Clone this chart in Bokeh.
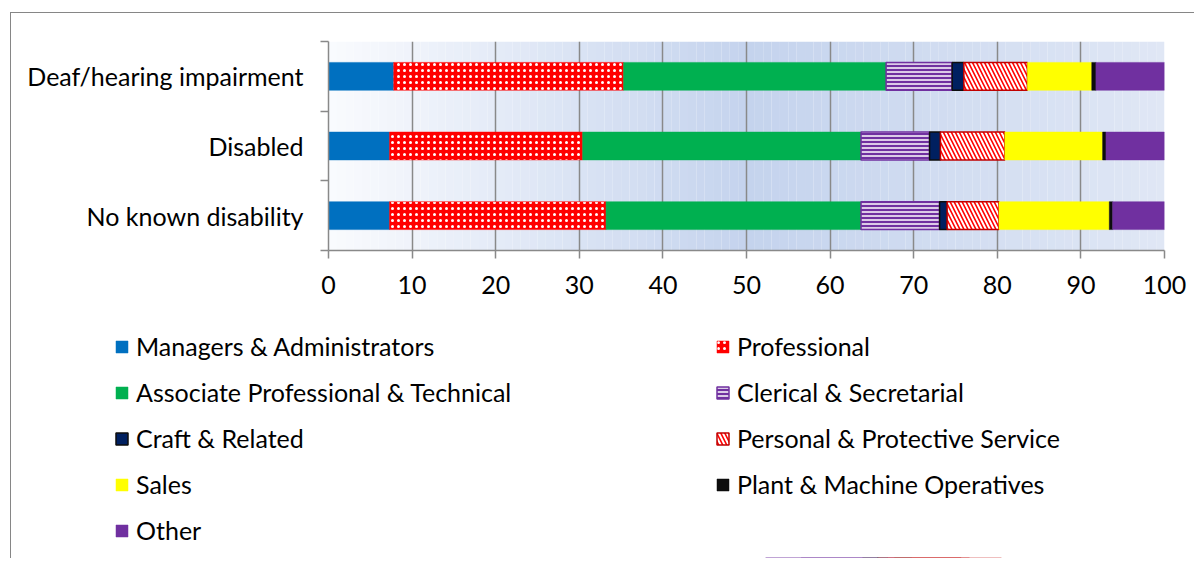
from bokeh.plotting import figure
from bokeh.models import (Range1d, LinearAxis, FixedTicker,
                          Legend, LegendItem, ColumnDataSource)
from bokeh.transform import stack
from bokeh.embed import file_html
from bokeh.resources import INLINE

# ---------------- data ----------------
groups = ["Deaf/hearing impairment", "Disabled", "No known disability"]
series = ["Managers & Administrators", "Professional", "Associate Professional & Technical",
          "Clerical & Secretarial", "Craft & Related", "Personal & Protective Service",
          "Sales", "Plant & Machine Operatives", "Other"]
managers = [7.8, 7.3, 7.3]
professional = [27.5, 23.1, 25.9]
associate = [31.4, 33.3, 30.5]
clerical = [7.9, 8.2, 9.4]
craft = [1.4, 1.3, 0.9]
personal = [7.6, 7.7, 6.2]
sales = [7.7, 11.7, 13.2]
plant = [0.5, 0.4, 0.4]
other = [8.2, 7.0, 6.2]
x_ticks = [0, 10, 20, 30, 40, 50, 60, 70, 80, 90, 100]

# ---------------- styles ----------------
FONT = "Lato"
FS = "25px"
GRID = "#898989"
FRAME = "1px solid #868686"
fills = ["#0070c0", "#ff0000", "#00b050", "#7030a0", "#002060", "#ff0000", "#ffff00", "#0d0d0d", "#7030a0"]
lines = [None, None, None, "#7030a0", "#0d0d0d", "#c00000", None, None, None]
hatches = [None, "dot", None, "horizontal_line", None, "left_diagonal_line", None, None, None]
hscale = [1, 6, 1, 4, 1, 8, 1, 1, 1]
hweight = [1, 1.3, 1, 1.5, 1, 2.0, 1, 1, 1]

def style(i):
    kw = dict(fill_color=fills[i], line_color=lines[i] if lines[i] else fills[i],
              line_width=1.5 if lines[i] else 0.5)
    if hatches[i]:
        kw.update(hatch_pattern=hatches[i], hatch_color="white", hatch_scale=hscale[i],
                  hatch_weight=hweight[i])
    return kw

n = len(groups)
ypos = [n - i - 0.5 for i in range(n)]          # category centres, first group on top
bounds = list(range(n + 1))                     # category band edges

src = ColumnDataSource(dict(y=ypos, **{s: v for s, v in zip(series, [
    managers, professional, associate, clerical, craft, personal, sales, plant, other])}))

def add_bars(fig):
    rs = []
    for i, s in enumerate(series):
        left = stack(*series[:i]) if i > 0 else 0
        rs.append(fig.hbar(y="y", left=left, right=stack(*series[:i + 1]), height=0.4,
                           source=src, **style(i)))
    return rs

W = 1184
TOPH = 292
p = figure(width=W, height=TOPH, output_backend="svg", toolbar_location=None,
           y_range=Range1d(0, n), x_range=Range1d(0, 100),
           x_axis_location=None, y_axis_location=None,
           min_border_left=317, min_border_right=W - 317 - 836, min_border_top=28,
           min_border_bottom=TOPH - 28 - 209,
           styles={"margin-left": "10px", "margin-top": "12px",
                   "border-left": FRAME, "border-top": FRAME})
p.outline_line_color = None
p.background_fill_color = "white"
p.border_fill_color = "white"

# gradient background (styling)
stops = [(0, (250, 251, 254)), (50, (196, 211, 237)), (100, (224, 231, 245))]
def grad(t):
    for (a, ca), (b, cb) in zip(stops[:-1], stops[1:]):
        if a <= t <= b:
            f = (t - a) / (b - a)
            return "#%02x%02x%02x" % tuple(int(round(ca[i] + (cb[i] - ca[i]) * f)) for i in range(3))
    return "#ffffff"
lefts = list(range(0, 100))
p.quad(left=lefts, right=[l + 1 for l in lefts], bottom=0, top=n,
       fill_color=[grad(l + 0.5) for l in lefts], line_color=None, level="image")

add_bars(p)

# grid
p.xgrid.grid_line_color = GRID
p.xgrid.grid_line_width = 1.5
p.ygrid.grid_line_color = None

# x axis
xa = LinearAxis(ticker=FixedTicker(ticks=x_ticks), major_tick_out=8, major_tick_in=0,
                minor_tick_out=0, minor_tick_in=0, axis_line_color=GRID, axis_line_width=1.5,
                major_tick_line_color=GRID, major_tick_line_width=1.5,
                major_label_text_font=FONT, major_label_text_font_size=FS,
                major_label_text_color="black", major_label_standoff=17)
p.add_layout(xa, "below")
p.xgrid.ticker = FixedTicker(ticks=x_ticks)

# y boundary ticks (no labels drawn)
ya = LinearAxis(ticker=FixedTicker(ticks=bounds), major_tick_out=8,
                major_tick_in=0, minor_tick_out=0, minor_tick_in=0, axis_line_color=GRID,
                axis_line_width=1.5, major_tick_line_color=GRID, major_tick_line_width=1.5,
                major_label_text_font_size="1px", major_label_text_color=None,
                major_label_standoff=0)
p.add_layout(ya, "left")
yl = LinearAxis(ticker=FixedTicker(ticks=ypos),
                major_label_overrides={y: g for y, g in zip(ypos, groups)},
                axis_line_color=None, major_tick_line_color=None, major_tick_out=0,
                major_tick_in=0, minor_tick_out=0, minor_tick_in=0,
                major_label_text_font=FONT, major_label_text_font_size=FS,
                major_label_text_color="black", major_label_standoff=17)
p.add_layout(yl, "left")

# ---------------- legend figure (bars just below view, only the legend shows) ----------------
LH = 563 - 13 - TOPH - 4
q = figure(width=W, height=LH, output_backend="svg", toolbar_location=None,
           x_range=Range1d(0, 100), y_range=Range1d(3.3, 4.3),
           x_axis_location=None, y_axis_location=None,
           min_border=0, min_border_left=0, min_border_right=0, min_border_top=0, min_border_bottom=0,
           styles={"margin-left": "10px", "border-left": FRAME})
q.outline_line_color = None
q.grid.visible = False
q.background_fill_color = "white"
q.border_fill_color = "white"
lr = add_bars(q)

left_idx = [0, 2, 4, 6, 8]
right_idx = [1, 3, 5, 7]
def mk_legend(idx, loc):
    return Legend(items=[LegendItem(label=series[i], renderers=[lr[i]]) for i in idx],
                  location=loc, orientation="vertical", glyph_width=15, glyph_height=15,
                  label_standoff=7, label_text_font=FONT, label_text_font_size=FS,
                  label_text_color="black", label_height=30, spacing=16, padding=0, margin=0,
                  border_line_alpha=0, background_fill_alpha=0, click_policy="none")
row_top = 27
q.add_layout(mk_legend(left_idx, (103, LH - row_top - (5 * 30 + 4 * 16))), "center")
q.add_layout(mk_legend(right_idx, (704, LH - row_top - (4 * 30 + 3 * 16))), "center")

open("out.html", "w").write(file_html([p, q], INLINE))
